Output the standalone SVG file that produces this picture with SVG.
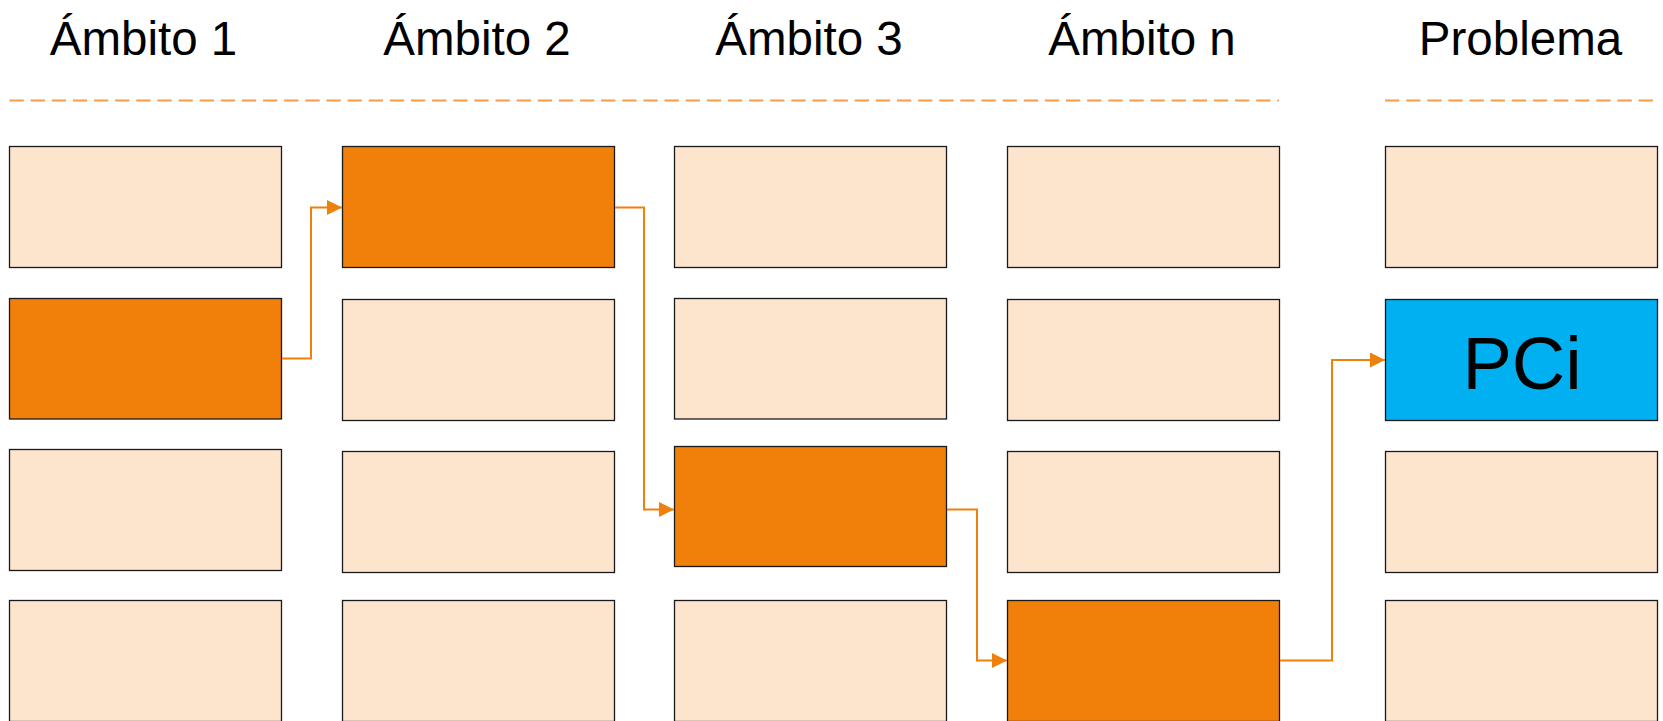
<svg xmlns="http://www.w3.org/2000/svg" width="1663" height="721" viewBox="0 0 1663 721">
<style>
.lt{fill:#FCE4CD;stroke:#1a1a1a;stroke-width:1.3}
.or{fill:#F0800A;stroke:#1a1a1a;stroke-width:1.3}
.bl{fill:#00B0F0;stroke:#1a1a1a;stroke-width:1.3}
.hd{font-family:"Liberation Sans",Arial,sans-serif;font-size:47.5px;fill:#000;text-anchor:middle}
.dash{stroke:#F39C4A;stroke-width:2;stroke-dasharray:14.3 6.83;fill:none}
.con{stroke:#F0800C;stroke-width:2;fill:none;marker-end:url(#ah)}
</style>
<defs>
<marker id="ah" viewBox="0 0 10 10" refX="10" refY="5" markerWidth="15" markerHeight="15" markerUnits="userSpaceOnUse" orient="auto">
<path d="M0,0 L10,5 L0,10 Z" fill="#F0800C"/>
</marker>
</defs>
<rect width="1663" height="721" fill="#fff"/>
<g id="headers">
<text class="hd" x="143.5" y="54.5">Ámbito 1</text>
<text class="hd" x="477" y="54.5">Ámbito 2</text>
<text class="hd" x="809" y="54.5">Ámbito 3</text>
<text class="hd" x="1142" y="54.5">Ámbito n</text>
<text class="hd" x="1520.5" y="54.5">Problema</text>
</g>
<g id="separators">
<line class="dash" x1="9.5" y1="100.5" x2="1279" y2="100.5"/>
<line class="dash" x1="1385" y1="100.5" x2="1656" y2="100.5"/>
</g>
<g id="col1">
<rect id="c1r1" class="lt" x="9.5" y="146.5" width="272" height="121"/>
<rect id="c1r2" class="or" x="9.5" y="298.5" width="272" height="120.5"/>
<rect id="c1r3" class="lt" x="9.5" y="449.5" width="272" height="121"/>
<rect id="c1r4" class="lt" x="9.5" y="600.5" width="272" height="121"/>
</g>
<g id="col2">
<rect id="c2r1" class="or" x="342.5" y="146.5" width="272" height="121"/>
<rect id="c2r2" class="lt" x="342.5" y="299.5" width="272" height="121"/>
<rect id="c2r3" class="lt" x="342.5" y="451.5" width="272" height="121"/>
<rect id="c2r4" class="lt" x="342.5" y="600.5" width="272" height="121"/>
</g>
<g id="col3">
<rect id="c3r1" class="lt" x="674.5" y="146.5" width="272" height="121"/>
<rect id="c3r2" class="lt" x="674.5" y="298.5" width="272" height="120.5"/>
<rect id="c3r3" class="or" x="674.5" y="446.5" width="272" height="120"/>
<rect id="c3r4" class="lt" x="674.5" y="600.5" width="272" height="121"/>
</g>
<g id="col4">
<rect id="c4r1" class="lt" x="1007.5" y="146.5" width="272" height="121"/>
<rect id="c4r2" class="lt" x="1007.5" y="299.5" width="272" height="121"/>
<rect id="c4r3" class="lt" x="1007.5" y="451.5" width="272" height="121"/>
<rect id="c4r4" class="or" x="1007.5" y="600.5" width="272" height="121"/>
</g>
<g id="col5">
<rect id="c5r1" class="lt" x="1385.5" y="146.5" width="272" height="121"/>
<g id="pci">
<rect class="bl" x="1385.5" y="299.5" width="272" height="121"/>
<text x="1522" y="388.5" font-family="Liberation Sans, Arial, sans-serif" font-size="74" text-anchor="middle" fill="#000">PCi</text>
</g>
<rect id="c5r3" class="lt" x="1385.5" y="451.5" width="272" height="121"/>
<rect id="c5r4" class="lt" x="1385.5" y="600.5" width="272" height="121"/>
</g>
<g id="connectors">
<path class="con" d="M282,358.5 H311 V207.5 H342"/>
<path class="con" d="M615,207.5 H644 V509.5 H674"/>
<path class="con" d="M947,509.5 H977 V660.5 H1007"/>
<path class="con" d="M1280,660.5 H1332 V360 H1385"/>
</g>
</svg>
